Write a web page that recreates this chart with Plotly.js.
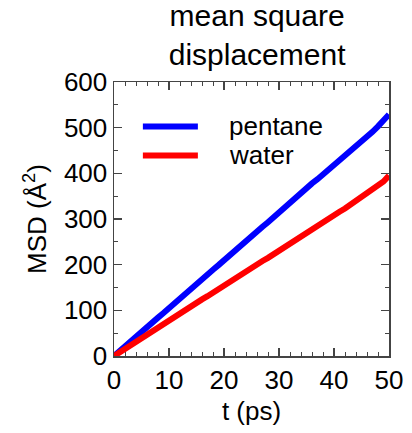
<!DOCTYPE html>
<html>
<head>
<meta charset="utf-8">
<script src="https://cdn.plot.ly/plotly-3.0.1.min.js"></script>
<style>html,body{margin:0;padding:0;background:#fff}#chart{width:412px;height:433px}</style>
</head>
<body>
<div id="chart"></div>
<script>
// Time axis (ps)
const time = [0,1,2,3,4,5,6,7,8,9,10,11,12,13,14,15,16,17,18,19,20,21,22,23,24,25,
  26,27,28,29,30,31,32,33,34,35,36,37,38,39,40,41,42,43,44,45,46,47,48,49,50];

// Mean square displacement (Å²)
const pentane = [0,11,22,32,43,53,63,74,84,94,105,115,126,136,147,158,168,178,189,199,
  210,220,230,241,251,262,272,283,293,304,316,326,336,345,356,367,378,387,397,408,
  419,430,439,449,459,470,480,491,503,515,529];
const water = [0,8,16,24,32,40,47,55,63,71,78,85,93,101,109,117,124,131,139,147,
  155,162,170,177,185,193,201,208,215,223,231,239,246,253,261,269,277,285,292,300,
  308,316,323,331,339,347,355,364,373,382,395];

const seriesNames = ['pentane', 'water'];
const seriesColors = ['#0000ff', '#ff0000'];

const font = 'Liberation Sans, Arial, sans-serif';

const traces = [pentane, water].map((ys, i) => ({
  x: time, y: ys, type: 'scatter', mode: 'lines',
  name: seriesNames[i], showlegend: false,
  line: {color: seriesColors[i], width: 6}
}));

// Legend drawn as short line samples with labels inside the plot
const legendY = [0.838, 0.732];
const shapes = legendY.map((y, i) => ({
  type: 'line', xref: 'paper', yref: 'paper',
  x0: 0.105, x1: 0.305, y0: y, y1: y,
  line: {color: seriesColors[i], width: 6}
}));
const annotations = legendY.map((y, i) => ({
  xref: 'paper', yref: 'paper', x: 0.41, y: y,
  xanchor: 'left', yanchor: 'middle', showarrow: false,
  text: seriesNames[i], font: {family: font, size: 26, color: '#000'}
}));

const axisCommon = {
  showgrid: false, zeroline: false, showline: true,
  linecolor: '#444', linewidth: 1.5,
  ticks: 'inside', ticklen: 8, tickwidth: 1.2, tickcolor: '#444',
  mirror: 'allticks',
  tickfont: {family: font, size: 26, color: '#000'}
};

const layout = {
  width: 412, height: 433,
  margin: {l: 114, r: 23, t: 82, b: 77},
  paper_bgcolor: '#fff', plot_bgcolor: '#fff',
  title: {
    text: 'mean square<br>displacement',
    font: {family: font, size: 30, color: '#000'},
    xref: 'container', x: 0.624, xanchor: 'center',
    yref: 'container', y: 0.94, yanchor: 'bottom'
  },
  xaxis: Object.assign({}, axisCommon, {
    range: [0, 50], dtick: 10, tick0: 0,
    minor: {dtick: 2, ticks: 'inside', ticklen: 4, tickcolor: '#444', tickwidth: 1},
    title: {text: 't (ps)', font: {family: font, size: 26, color: '#000'}, standoff: 8}
  }),
  yaxis: Object.assign({}, axisCommon, {
    range: [0, 600], dtick: 100, tick0: 0,
    minor: {dtick: 50, ticks: 'inside', ticklen: 4, tickcolor: '#444', tickwidth: 1},
    title: {text: 'MSD (Å<sup>2</sup>)', font: {family: font, size: 26, color: '#000'}, standoff: 10}
  }),
  shapes: shapes,
  annotations: annotations
};

Plotly.newPlot('chart', traces, layout, {displayModeBar: false, staticPlot: true});
</script>
</body>
</html>
